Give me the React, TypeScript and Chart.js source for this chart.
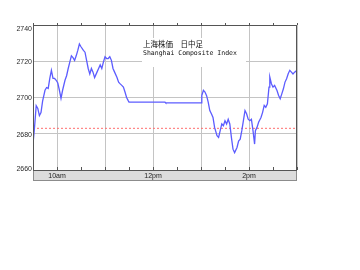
import React, { useEffect, useRef } from "react";
import { Chart, registerables } from "chart.js";

Chart.register(...registerables);

// ---- data ----
const times = [
  "09:30", "09:32", "09:34", "09:36", "09:38", "09:40", "09:42", "09:45", "09:47", "09:49",
  "09:51", "09:53", "09:55", "09:57", "09:59", "10:01", "10:03", "10:05", "10:07", "10:10",
  "10:12", "10:14", "10:16", "10:18", "10:20", "10:22", "10:24", "10:26", "10:28", "10:30",
  "10:33", "10:35", "10:37", "10:39", "10:41", "10:43", "10:45", "10:47", "10:50", "10:52",
  "10:54", "10:56", "10:58", "11:00", "11:02", "11:04", "11:06", "11:08", "11:10", "11:12",
  "11:15", "11:17", "11:19", "11:21", "11:23", "11:25", "11:27", "11:29", "11:30",
  "12:15", "12:16", "13:00",
  "13:01", "13:03", "13:05", "13:07", "13:09", "13:11", "13:13", "13:15", "13:17", "13:20",
  "13:22", "13:24", "13:26", "13:28", "13:30", "13:32", "13:34", "13:36", "13:38", "13:40",
  "13:42", "13:45", "13:47", "13:49", "13:51", "13:53", "13:55", "13:57", "13:59", "14:01",
  "14:03", "14:05", "14:07", "14:08", "14:10", "14:12", "14:15", "14:17", "14:19", "14:21",
  "14:23", "14:25", "14:26", "14:28", "14:30", "14:32", "14:35", "14:37", "14:39", "14:41",
  "14:43", "14:45", "14:47", "14:49", "14:51", "14:53", "14:55", "14:57", "15:00",
];

const values = [
  2674.3, 2684, 2695.5, 2694, 2690, 2691.7, 2698, 2704, 2705.5, 2705,
  2710.5, 2715, 2710.5, 2710.5, 2709.5, 2708, 2704, 2699.5, 2704, 2709.5,
  2712, 2716, 2719.5, 2723, 2722, 2720.5, 2723, 2726, 2729.5, 2728,
  2726, 2725, 2720.5, 2716, 2713, 2716, 2714, 2711, 2714, 2716,
  2718, 2716, 2719.5, 2722.5, 2721.5, 2721.5, 2722.5, 2720.5, 2716, 2714,
  2711, 2708.5, 2707.5, 2706.7, 2705.7, 2703, 2700, 2698.3, 2697.5,
  2697.4, 2697, 2697,
  2701, 2704, 2703, 2701, 2697.4, 2692.8, 2691, 2689, 2683.5, 2679,
  2678, 2681.7, 2685.4, 2684.4, 2687.2, 2685.4, 2688, 2685.4, 2678, 2671.5,
  2669.6, 2672.4, 2676, 2677, 2681.7, 2687.2, 2692.8, 2691, 2688, 2687.2,
  2688, 2681.7, 2674.3, 2681.7, 2683.5, 2686.3, 2689, 2691.8, 2695.6, 2694.6,
  2696.5, 2705.7, 2711.3, 2707.6, 2705.7, 2706.7, 2703.9, 2701.1, 2699.3, 2702,
  2704.8, 2708.5, 2710.4, 2713.1, 2715, 2714, 2713, 2714, 2715,
];

const prevClose = 2683;
const sessionStart = "09:30";
const sessionEnd = "15:00";
const yMin = 2660;
const yMax = 2740;
const yStep = 20;
const xTickLabels: Record<string, string> = { "10:00": "10am", "12:00": "12pm", "14:00": "2pm" };
const titleJa = "上海株価　日中足";
const titleEn = "Shanghai Composite Index";

const toMin = (s: string) => {
  const [h, m] = s.split(":").map(Number);
  return h * 60 + m;
};
const fromMin = (v: number) => {
  const h = Math.floor(v / 60);
  const m = Math.round(v - h * 60);
  return `${String(h).padStart(2, "0")}:${String(m).padStart(2, "0")}`;
};

const NARROW = "'Liberation Sans Narrow', 'Liberation Sans', Arial, sans-serif";

const decor = {
  id: "decor",
  beforeDraw(chart: any) {
    const { ctx, chartArea: a, width, height } = chart;
    ctx.save();
    ctx.fillStyle = "#ffffff";
    ctx.fillRect(0, 0, width, height);
    // bottom time band
    ctx.fillStyle = "#dcdcdc";
    ctx.fillRect(a.left, a.bottom, a.right - a.left, 10);
    ctx.strokeStyle = "#8c8c8c";
    ctx.lineWidth = 1;
    ctx.strokeRect(a.left + 0.5, a.bottom + 0.5, a.right - a.left - 1, 10);
    ctx.restore();
  },
  beforeDatasetsDraw(chart: any) {
    const { ctx, chartArea: a, scales } = chart;
    ctx.save();
    const bx = a.left + 109;
    const by = a.top + 13;
    ctx.fillStyle = "#ffffff";
    ctx.fillRect(bx, by, 104, 29);
    ctx.fillStyle = "#111111";
    ctx.textBaseline = "middle";
    ctx.textAlign = "left";
    ctx.font = "7.5px 'Noto Sans CJK JP', sans-serif";
    ctx.fillText(titleJa, bx + 1, by + 6);
    ctx.font = "6.5px 'DejaVu Sans Mono', monospace";
    ctx.fillText(titleEn, bx + 1, by + 15);
    // y tick labels (kept inside the plot's vertical span)
    const ys = scales.y;
    ctx.fillStyle = "#2a2a2a";
    ctx.textAlign = "right";
    ctx.font = `7px ${NARROW}`;
    for (const t of ys.ticks) {
      const py = Math.min(Math.max(ys.getPixelForValue(t.value) + 1, a.top + 4), a.bottom - 1);
      ctx.fillText(String(t.value), a.left - 1, py);
    }
    ctx.restore();
  },
  afterDatasetsDraw(chart: any) {
    const { ctx, chartArea: a, scales } = chart;
    const xs = scales.x;
    ctx.save();
    ctx.strokeStyle = "#555555";
    ctx.lineWidth = 1;
    ctx.strokeRect(a.left + 0.5, a.top + 0.5, a.right - a.left - 1, a.bottom - a.top);
    // half-hour ticks
    ctx.beginPath();
    for (let t = toMin(sessionStart); t <= toMin(sessionEnd); t += 30) {
      const px = Math.round(xs.getPixelForValue(t)) + 0.5;
      ctx.moveTo(px, a.bottom);
      ctx.lineTo(px, a.bottom - 3);
      ctx.moveTo(px, a.top);
      ctx.lineTo(px, a.top - 2);
    }
    ctx.stroke();
    ctx.restore();
  },
};

export default function App() {
  const ref = useRef<HTMLCanvasElement | null>(null);

  useEffect(() => {
    if (!ref.current) return;
    const data = times.map((t, i) => ({ x: toMin(t), y: values[i] }));
    const chart = new Chart(ref.current, {
      type: "line",
      data: {
        datasets: [
          {
            data,
            borderColor: "#5c5cff",
            borderWidth: 1.3,
            pointRadius: 0,
            tension: 0,
            fill: false,
          },
          {
            data: [
              { x: toMin(sessionStart), y: prevClose },
              { x: toMin(sessionEnd), y: prevClose },
            ],
            borderColor: "#ff6e6e",
            borderWidth: 1,
            borderDash: [2, 2],
            pointRadius: 0,
            fill: false,
          },
        ],
      },
      options: {
        responsive: false,
        animation: false,
        events: [],
        layout: { padding: { left: 0, top: 25, right: 63, bottom: 0 } },
        plugins: { legend: { display: false }, tooltip: { enabled: false } },
        scales: {
          x: {
            type: "linear",
            min: toMin(sessionStart),
            max: toMin(sessionEnd),
            afterFit: (s: any) => {
              s.height = 100;
            },
            grid: { color: "#c4c4c4", lineWidth: 1, drawTicks: false },
            border: { display: false },
            ticks: {
              stepSize: 60,
              autoSkip: false,
              maxRotation: 0,
              padding: 2,
              color: "#222222",
              font: { family: NARROW, size: 7 },
              callback: (v: any) => xTickLabels[fromMin(Number(v))] || "",
            },
          },
          y: {
            min: yMin,
            max: yMax,
            afterFit: (s: any) => {
              s.width = 33;
            },
            grid: { color: "#c4c4c4", lineWidth: 1, drawTicks: false },
            border: { display: false },
            ticks: {
              stepSize: yStep,
              display: false,
            },
          },
        },
      },
      plugins: [decor],
    });
    return () => chart.destroy();
  }, []);

  return (
    <div style={{ position: "absolute", left: 0, top: 0, width: 360, height: 270, background: "#fff" }}>
      <canvas ref={ref} width={360} height={270} style={{ display: "block" }} />
    </div>
  );
}
